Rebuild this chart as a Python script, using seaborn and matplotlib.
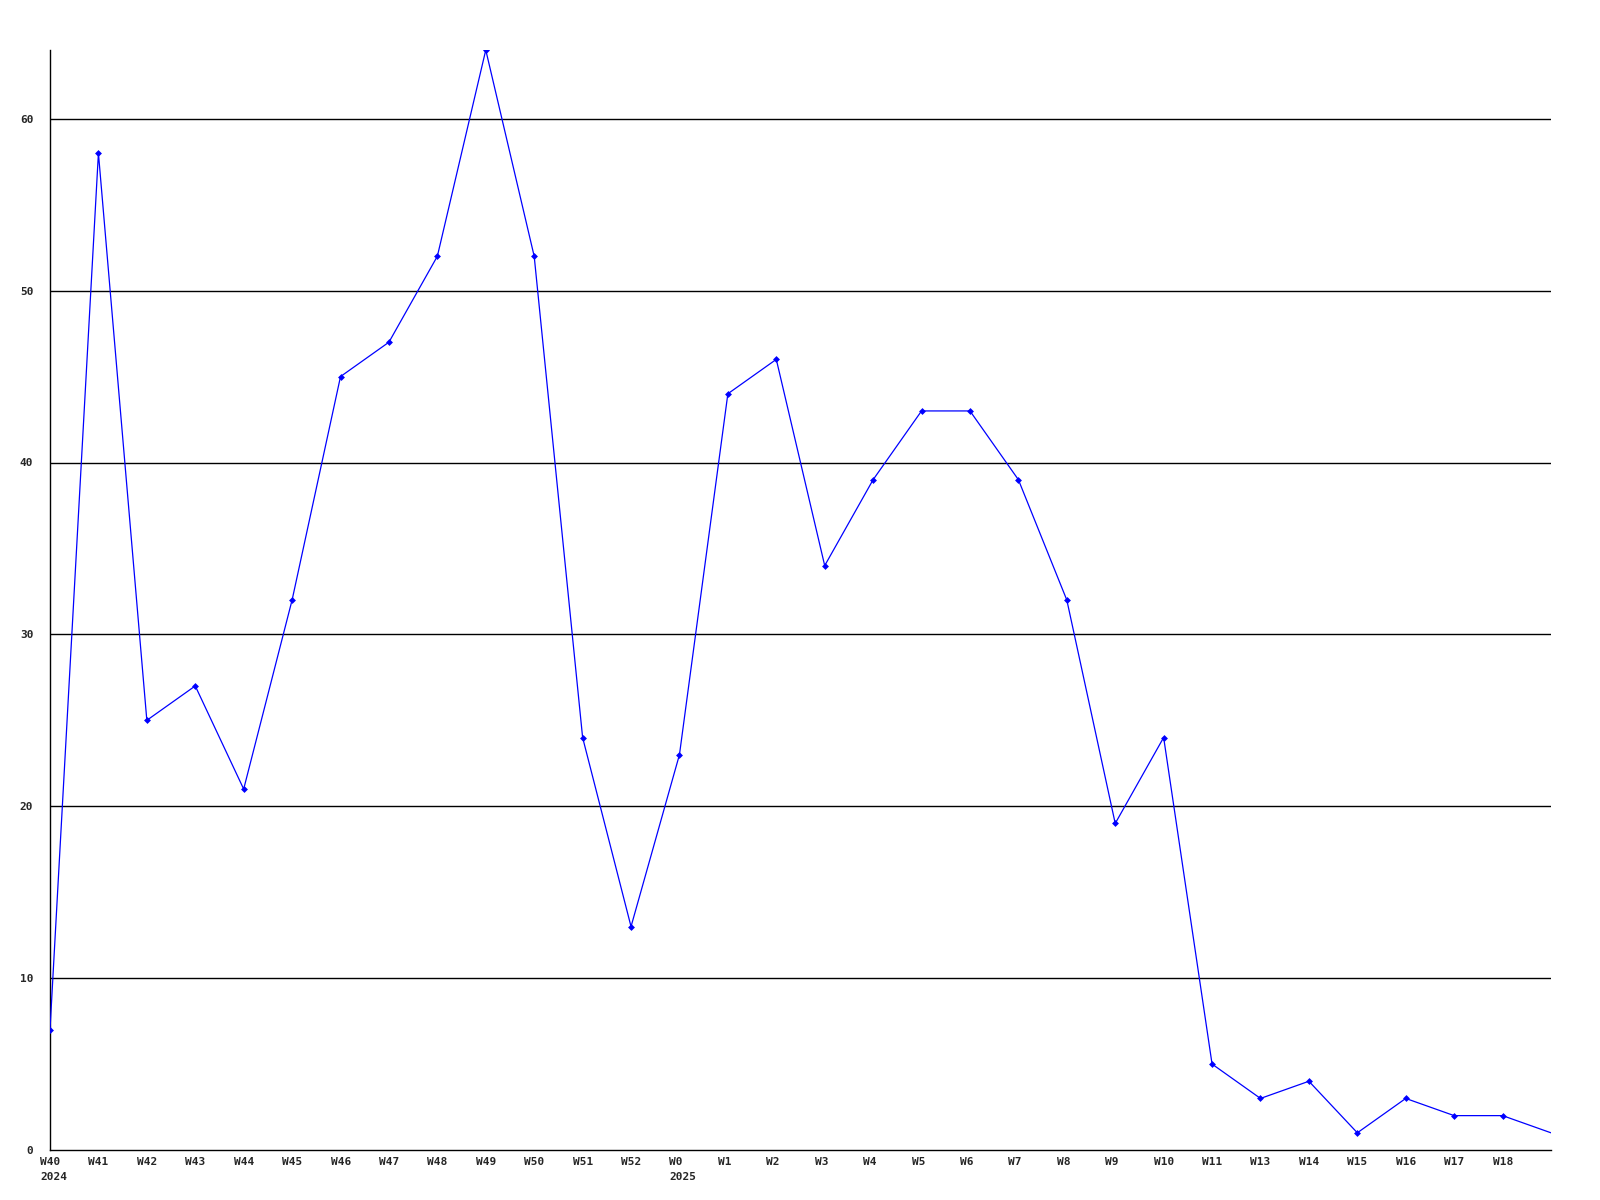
import matplotlib
matplotlib.use("Agg")
import matplotlib.pyplot as plt
import matplotlib.transforms as mtransforms
import numpy as np
import pandas as pd
import seaborn as sns

# weekly counts
weeks = ['W40\n2024', 'W41', 'W42', 'W43', 'W44', 'W45', 'W46', 'W47', 'W48', 'W49',
         'W50', 'W51', 'W52', 'W0\n2025', 'W1', 'W2', 'W3', 'W4', 'W5', 'W6', 'W7',
         'W8', 'W9', 'W10', 'W11', 'W13', 'W14', 'W15', 'W16', 'W17', 'W18', '']
counts = [7, 58, 25, 27, 21, 32, 45, 47, 52, 64, 52, 24, 13, 23, 44, 46, 34, 39,
          43, 43, 39, 32, 19, 24, 5, 3, 4, 1, 3, 2, 2, 1]
y_ticks = [0, 10, 20, 30, 40, 50, 60]

df = pd.DataFrame({'pos': np.arange(len(counts)), 'count': counts})

sns.set_style('white')
plt.rcParams['font.family'] = ['DejaVu Sans Mono']
plt.rcParams['font.weight'] = 'bold'

fig = plt.figure(figsize=(16, 12), dpi=100)
ax = fig.add_axes([50 / 1600, 50 / 1200, 1501 / 1600, 1100 / 1200])

for t in y_ticks[1:]:
    ax.axhline(t, color='black', linewidth=1.0, zorder=1)

sns.lineplot(data=df, x='pos', y='count', ax=ax, color='#0000ff', linewidth=0.9,
             marker='D', markersize=3.5, markeredgewidth=0,
             markevery=list(range(len(counts) - 1)), zorder=3, clip_on=True)

ax.set_xlim(0, len(counts) - 1)
ax.set_ylim(0, max(counts))
ax.set_yticks(y_ticks)
ax.set_yticklabels([str(t) for t in y_ticks], fontsize=8, fontweight='bold')
ax.set_xticks(df['pos'][:-1])
ax.set_xticklabels(weeks[:-1], fontsize=8, fontweight='bold', linespacing=1.6)
ax.tick_params(axis='both', length=0)
ax.tick_params(axis='y', pad=12)
ax.tick_params(axis='x', pad=5)

# labels start a bit left of their tick, like the original
offset = mtransforms.ScaledTranslation(-10 / 100, 0, fig.dpi_scale_trans)
for lab in ax.get_xticklabels():
    lab.set_ha('left')
    lab.set_multialignment('left')
    lab.set_transform(lab.get_transform() + offset)

ax.set_xlabel('')
ax.set_ylabel('')
for side in ['top', 'right']:
    ax.spines[side].set_visible(False)
for side in ['left', 'bottom']:
    ax.spines[side].set_color('black')
    ax.spines[side].set_linewidth(1.0)

fig.savefig('out.png', dpi=100)
